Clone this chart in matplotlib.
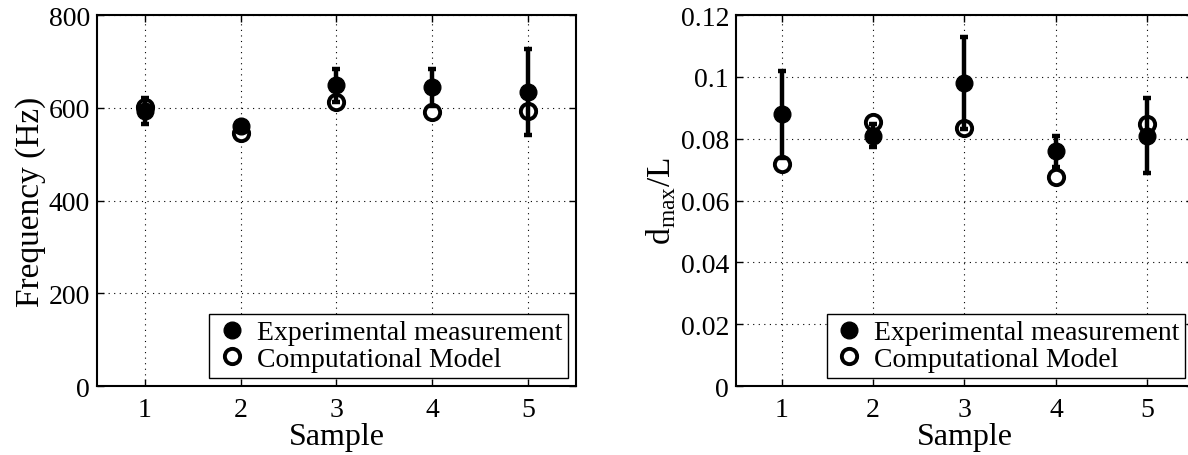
import numpy as np
import matplotlib
matplotlib.use("Agg")
import matplotlib.pyplot as plt
from matplotlib.lines import Line2D

plt.rcParams["font.family"] = ["Liberation Serif", "DejaVu Serif"]
plt.rcParams["mathtext.fontset"] = "custom"
plt.rcParams["mathtext.rm"] = "Liberation Serif"

samples = [1, 2, 3, 4, 5]

# left panel: natural frequency
freq_exp = [593, 560, 648, 644, 634]
freq_exp_err = [28, 8, 36, 40, 93]
freq_model = [601, 545, 612, 590, 592]

# right panel: normalised max deflection
dmax_exp = [0.0879, 0.0809, 0.098, 0.0759, 0.081]
dmax_exp_err = [0.0141, 0.0037, 0.015, 0.005, 0.012]
dmax_model = [0.0718, 0.0853, 0.0834, 0.0675, 0.0847]

LABEL_EXP = "Experimental measurement"
LABEL_MOD = "Computational Model"


def draw_panel(ax, exp, err, model, ylim, yticks, yticklabels, ylabel):
    ax.plot(samples, model, linestyle="none", marker="o", markersize=11,
            markerfacecolor="white", markeredgecolor="black",
            markeredgewidth=2.8, zorder=3)
    ax.errorbar(samples, exp, yerr=err, fmt="o", color="black",
                markersize=12, elinewidth=3.2, capsize=3, capthick=3.2,
                zorder=4)
    ax.set_xlim(0.5, 5.5)
    ax.set_ylim(*ylim)
    ax.set_xticks(samples)
    ax.set_yticks(yticks)
    ax.set_yticklabels(yticklabels)
    ax.tick_params(direction="in", length=5, width=1, labelsize=20,
                   top=True, right=True)
    ax.tick_params(axis="x", pad=8)
    ax.tick_params(axis="y", pad=5)
    ax.grid(True, linestyle=(0, (1, 4)), color="black", linewidth=0.8)
    for sp in ax.spines.values():
        sp.set_linewidth(1.5)
    ax.set_xlabel("Sample", fontsize=23, labelpad=0)
    ax.set_ylabel(ylabel, fontsize=24, labelpad=2)

    handles = [
        Line2D([], [], linestyle="none", marker="o", markersize=12,
               color="black"),
        Line2D([], [], linestyle="none", marker="o", markersize=11,
               markerfacecolor="white", markeredgecolor="black",
               markeredgewidth=2.8),
    ]
    leg = ax.legend(handles, [LABEL_EXP, LABEL_MOD], loc="lower right",
                    fontsize=20, fancybox=False, framealpha=1,
                    edgecolor="black", borderaxespad=0.3,
                    handletextpad=0.3, borderpad=0.2, labelspacing=0.05,
                    handlelength=1.2)
    leg.get_frame().set_linewidth(1.0)
    leg.set_zorder(5)


fig = plt.figure(figsize=(11.88, 4.56), dpi=100)
ax1 = fig.add_axes([0.0816, 0.1513, 0.4032, 0.8136])
ax2 = fig.add_axes([0.6195, 0.1513, 0.3847, 0.8136])

draw_panel(ax1, freq_exp, freq_exp_err, freq_model, (0, 800),
           [0, 200, 400, 600, 800], ["0", "200", "400", "600", "800"],
           "Frequency (Hz)")
draw_panel(ax2, dmax_exp, dmax_exp_err, dmax_model, (0, 0.12),
           [0, 0.02, 0.04, 0.06, 0.08, 0.1, 0.12],
           ["0", "0.02", "0.04", "0.06", "0.08", "0.1", "0.12"],
           r"d$_\mathregular{max}$/L")

fig.savefig("out.png", dpi=100)
